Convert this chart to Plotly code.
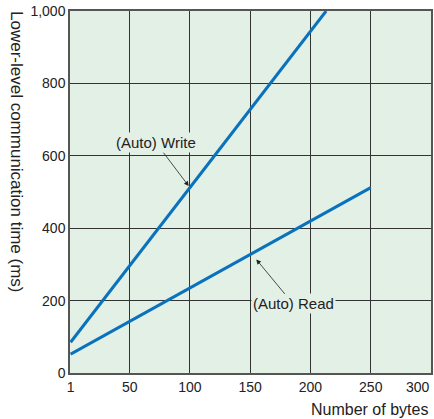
import plotly.graph_objects as go

bytes_x = [1, 250]
read_ms = [52, 512]
write_x = [1, 213]
write_ms = [85, 1000]

x_ticks = [1, 50, 100, 150, 200, 250, 300]
x_labels = ["1", "50", "100", "150", "200", "250", ""]
x_last_label = "300"
y_ticks = [0, 200, 400, 600, 800, 1000]
y_labels = ["0", "200", "400", "600", "800", "1,000"]

line_color = "#0a72bd"
bg = "#e2f0e5"
grid = "#333333"
font = dict(family="Liberation Sans, Arial, sans-serif", size=14, color="#222222")

fig = go.Figure()
fig.add_trace(go.Scatter(x=write_x, y=write_ms, mode="lines",
                         line=dict(color=line_color, width=3), showlegend=False))
fig.add_trace(go.Scatter(x=bytes_x, y=read_ms, mode="lines",
                         line=dict(color=line_color, width=3), showlegend=False))

fig.update_layout(
    width=434, height=419,
    margin=dict(l=70, r=1, t=11, b=46),
    paper_bgcolor="white", plot_bgcolor=bg,
    font=font,
    xaxis=dict(range=[0.5, 300], tickvals=x_ticks, ticktext=x_labels,
               showgrid=True, gridcolor=grid, gridwidth=1, zeroline=False,
               showline=True, linecolor="#555555", linewidth=1.5, mirror=True,
               ticks="", ticklen=0),
    yaxis=dict(range=[0, 1000], tickvals=y_ticks, ticktext=y_labels,
               showgrid=True, gridcolor=grid, gridwidth=1, zeroline=False,
               showline=True, linecolor="#555555", linewidth=1.5, mirror=True,
               ticks="", ticklen=0),
)

annos = [
    dict(text="Lower-level communication time (ms)", textangle=90,
         xref="paper", yref="paper", x=0, y=1, xanchor="center", yanchor="top",
         xshift=-53, yshift=2, showarrow=False, font=dict(size=17)),
    dict(text="Number of bytes", xref="paper", yref="paper", x=1, y=0,
         xanchor="left", yanchor="top", xshift=-122, yshift=-26,
         showarrow=False, font=dict(size=16)),
    dict(text=x_last_label, xref="x", yref="paper", x=x_ticks[-1], y=0,
         xanchor="right", yanchor="top", xshift=1, yshift=-4,
         showarrow=False, font=dict(size=14)),
    dict(text="(Auto) Write", x=100, y=512, xref="x", yref="y",
         ax=-34, ay=-45, showarrow=True, arrowhead=2, arrowsize=1.2,
         arrowwidth=0.8, arrowcolor="#222222", standoff=2,
         bgcolor=bg, font=dict(size=15)),
    dict(text="(Auto) Read", x=154, y=318, xref="x", yref="y",
         ax=38, ay=46, showarrow=True, arrowhead=2, arrowsize=1.2,
         arrowwidth=0.8, arrowcolor="#222222", standoff=2,
         bgcolor=bg, font=dict(size=15)),
]
fig.update_layout(annotations=annos)

fig.write_html("out.html", config={"displayModeBar": False},
               post_script="document.body.style.margin='0';")
